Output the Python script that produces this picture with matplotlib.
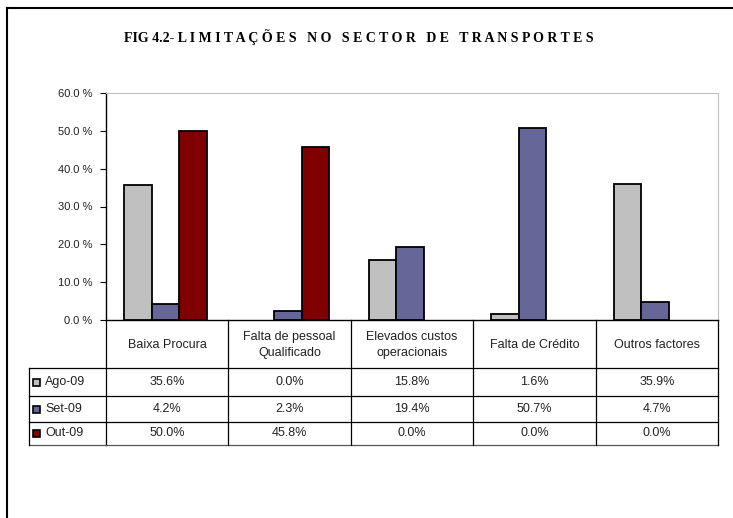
import matplotlib
matplotlib.use("Agg")
import matplotlib.pyplot as plt
import numpy as np
from matplotlib.lines import Line2D
from matplotlib.patches import Rectangle
from matplotlib.transforms import blended_transform_factory

# chart data
categories = ["Baixa Procura", "Falta de pessoal\nQualificado", "Elevados custos\noperacionais",
              "Falta de Crédito", "Outros factores"]
series_names = ["Ago-09", "Set-09", "Out-09"]
ago_09 = [35.6, 0.0, 15.8, 1.6, 35.9]
set_09 = [4.2, 2.3, 19.4, 50.7, 4.7]
out_09 = [50.0, 45.8, 0.0, 0.0, 0.0]
colors = ["#C0C0C0", "#666699", "#800000"]
title = "FIG 4.2- L I M I T A Ç Õ E S   N O   S E C T O R   D E   T R A N S P O R T E S"

W, H = 733, 518
fig = plt.figure(figsize=(W / 100, H / 100), dpi=100)
plt.rcParams['font.family'] = ['Liberation Sans', 'DejaVu Sans']

def fx(px):
    return px / W

def fy(py):
    return 1 - py / H

# plot area in pixels
left, right, top, bottom = 106, 718, 93, 320
ax = fig.add_axes([fx(left), fy(bottom), fx(right) - fx(left), fy(top) - fy(bottom)])

x = np.arange(len(categories))
width = 0.225
shift = -0.015
for i, (vals, name) in enumerate(zip([ago_09, set_09, out_09], series_names)):
    # zero bars are not drawn with an outline in the original
    lws = [1.3 if v > 0 else 0 for v in vals]
    ax.bar(x + (i - 1) * width + shift, vals, width, color=colors[i],
           edgecolor="black", linewidth=lws, label=name, zorder=3)

ax.set_xlim(-0.5, len(categories) - 0.5)
ax.set_ylim(0, 60)
ax.set_yticks(np.arange(0, 61, 10))
ax.set_yticklabels([f"{v:.1f} %" for v in np.arange(0, 61, 10)], fontsize=8, color="#222222")
ax.set_xticks([])
ax.tick_params(axis="y", length=4, width=0.8, pad=6)
ax.spines["top"].set_color("#c0c0c0")
ax.spines["right"].set_color("#c0c0c0")
ax.spines["left"].set_linewidth(1.0)
ax.spines["bottom"].set_linewidth(1.0)

# data table under the chart
row_y = [320, 368, 396, 422, 445]
tr = blended_transform_factory(ax.transData, fig.transFigure)
lw = 0.9

def hline(x0, x1, py, color="black", trans=tr):
    ln = Line2D([x0, x1], [fy(py), fy(py)], transform=trans, color=color, lw=lw, clip_on=False)
    ax.add_artist(ln)

def vline(xv, py0, py1, trans=tr):
    ln = Line2D([xv, xv], [fy(py0), fy(py1)], transform=trans, color="black", lw=lw, clip_on=False)
    ax.add_artist(ln)

x0, x1 = -0.5, len(categories) - 0.5
for py in row_y[1:-1]:
    hline(x0, x1, py)
hline(x0, x1, row_y[-1], color="#555555")
for b in np.arange(len(categories) + 1) - 0.5:
    vline(b, row_y[0], row_y[-1])

# legend column
fig.add_artist(Line2D([fx(29), fx(left)], [fy(368), fy(368)], color="black", lw=lw))
for py in row_y[2:-1]:
    fig.add_artist(Line2D([fx(29), fx(left)], [fy(py), fy(py)], color="black", lw=lw))
fig.add_artist(Line2D([fx(29), fx(left)], [fy(445), fy(445)], color="#555555", lw=lw))
fig.add_artist(Line2D([fx(29), fx(29)], [fy(368), fy(445)], color="black", lw=lw))

for i, cat in enumerate(categories):
    ax.text(i, fy((row_y[0] + row_y[1]) / 2 + 1), cat, transform=tr, ha="center", va="center",
            fontsize=9, color="#222222", linespacing=1.5)

for r, (vals, name) in enumerate(zip([ago_09, set_09, out_09], series_names)):
    yc = (row_y[r + 1] + row_y[r + 2]) / 2
    for i, v in enumerate(vals):
        ax.text(i, fy(yc), f"{v:.1f}%", transform=tr, ha="center", va="center",
                fontsize=9, color="#222222")
    fig.patches.append(Rectangle((fx(33), fy(yc + 3.5)), fx(7), 7 / H, facecolor=colors[r],
                                 edgecolor="black", lw=1.2, transform=fig.transFigure, figure=fig))
    fig.text(fx(45), fy(yc), name, ha="left", va="center", fontsize=9, color="#222222")

# title and outer frame
fig.text(fx(359), fy(37), title, ha="center", va="center", fontsize=10,
         fontweight="bold", family="Liberation Serif")
fig.add_artist(Line2D([fx(7), fx(7)], [fy(8), 0], color="black", lw=1.5))
fig.add_artist(Line2D([fx(7), 1], [fy(8), fy(8)], color="black", lw=1.5))

fig.savefig("out.png", dpi=100)
